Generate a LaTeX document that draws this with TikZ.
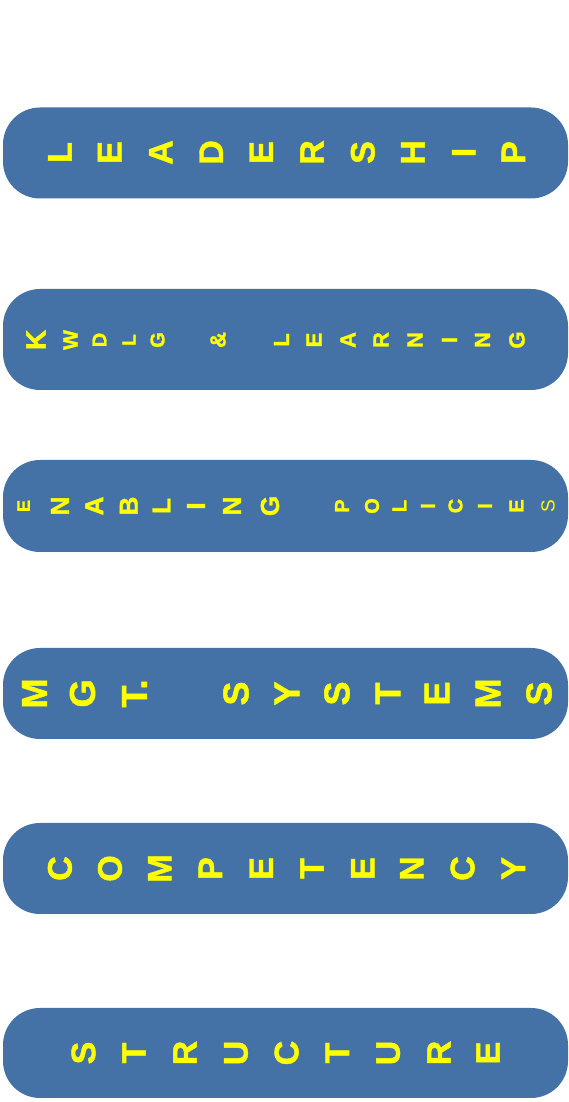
\documentclass[tikz,border=0pt]{standalone}
\usepackage{fontspec}
\setmainfont{Liberation Sans}[BoldFeatures={FakeBold=1.3}]
\definecolor{barblue}{RGB}{68,114,166}
\definecolor{letteryellow}{RGB}{255,255,0}
\newcommand\myfs[1]{\fontsize{#1}{#1}\selectfont}
\tikzset{
  bar/.style={fill=barblue, draw=none, rounded corners=37pt, minimum width=565pt, inner sep=0pt},
  ch/.style={text=letteryellow, rotate=90, inner sep=0pt, anchor=center},
}
\begin{document}
\begin{tikzpicture}[x=1pt,y=1pt]
\useasboundingbox (0,0) rectangle (569,1102);
% bars
\node[bar, minimum height=91pt]  (b1) at (285.5,949) {};
\node[bar, minimum height=101pt] (b2) at (285.5,762.5) {};
\node[bar, minimum height=92pt]  (b3) at (285.5,596) {};
\node[bar, minimum height=91pt]  (b4) at (285.5,408.5) {};
\node[bar, minimum height=91pt]  (b5) at (285.5,233.5) {};
\node[bar, minimum height=90pt]  (b6) at (285.5,49) {};
% LEADERSHIP
\foreach \c/\x [count=\i] in {L/59.9,E/109.6,A/160.7,D/211.2,E/261.2,R/312.0,S/362.8,H/412.9,I/463.7,P/513.4}
  \node[ch, font=\myfs{34}\bfseries] (lead\i) at (\x,949.5) {\c};
% KWDLG & LEARNING
\node[ch, font=\myfs{28}\bfseries] (kw1) at (36,762) {K};
\node[ch, font=\myfs{21}\bfseries] (kw2) at (70.5,762) {W};
\node[ch, font=\myfs{20}\bfseries] (kw3) at (99.5,762) {D};
\node[ch, font=\myfs{19}\bfseries] (kw4) at (129,762) {L};
\node[ch, font=\myfs{20}\bfseries] (kw5) at (157.5,762) {G};
\node[ch, font=\myfs{22}\bfseries] (amp) at (218,762) {\&};
\foreach \c/\x [count=\i] in {L/281.5,E/314,A/348,R/381,N/415,I/449.5,N/482.5,G/517}
  \node[ch, font=\myfs{22}\bfseries] (learn\i) at (\x,762) {\c};
% ENABLING POLICIES
\node[ch, font=\myfs{18}\bfseries] (en1) at (23.6,596) {E};
\foreach \c/\x [count=\i from 2] in {N/59.9,A/94.3,B/128.8,L/161.5,I/196,N/232,G/270}
  \node[ch, font=\myfs{26}\bfseries] (en\i) at (\x,596) {\c};
\foreach \c/\x [count=\i] in {P/342,O/372,L/399.5,I/428,C/455.5,I/485,E/516.5}
  \node[ch, font=\myfs{20}\bfseries] (pol\i) at (\x,596) {\c};
\node[ch, font=\myfs{19}] (pol8) at (548,596) {S};
% MGT. SYSTEMS
\node[ch, font=\myfs{36}\bfseries] (mg1) at (34.5,408.5) {M};
\node[ch, font=\myfs{36}\bfseries] (mg2) at (82.5,408.5) {G};
\node[ch, font=\myfs{36}\bfseries] (mg3) at (134.5,408.5) {T.};
\foreach \c/\x [count=\i] in {S/236,Y/287,S/337,T/388,E/437,M/488,S/539}
  \node[ch, font=\myfs{36}\bfseries] (sys\i) at (\x,408.5) {\c};
% COMPETENCY
\foreach \c/\x [count=\i] in {C/59.9,O/110,M/159.7,P/210.4,E/261.2,T/312,E/362.8,N/411.8,C/462.6,Y/513.4}
  \node[ch, font=\myfs{34}\bfseries] (comp\i) at (\x,233.5) {\c};
% STRUCTURE
\foreach \c/\x [count=\i] in {S/83.5,T/134,R/185,U/236,C/286.6,T/337.4,U/388.2,R/439,E/488}
  \node[ch, font=\myfs{34}\bfseries] (str\i) at (\x,49) {\c};
\end{tikzpicture}
\end{document}
